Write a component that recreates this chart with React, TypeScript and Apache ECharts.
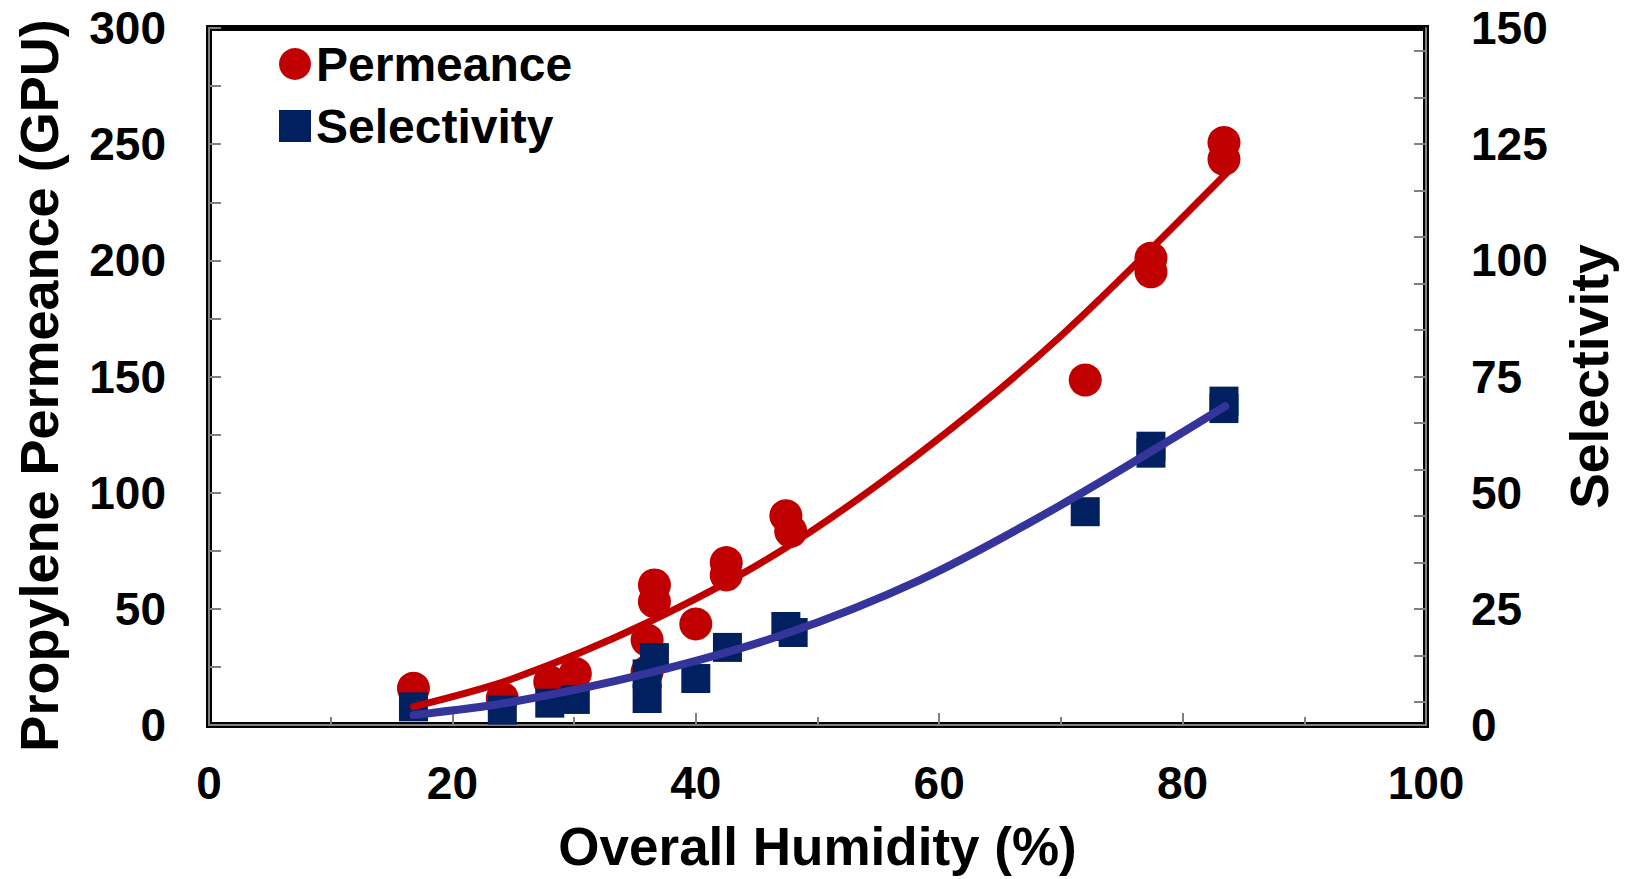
import React, { useEffect, useRef } from "react";
import * as echarts from "echarts";

const humidityPerm = [16.8, 24.1, 28.0, 30.1, 36.0, 36.0, 36.6, 36.6, 40.0, 42.5, 42.5, 47.4, 47.8, 72.0, 77.4, 77.4, 83.4, 83.4];
const permeance = [15.8, 11.5, 18.6, 22.2, 36.6, 22.9, 60.3, 53.1, 43.5, 69.9, 64.6, 90.1, 83.4, 148.5, 200.9, 195.1, 250.7, 243.5];

const humiditySel = [16.8, 24.1, 28.0, 30.1, 36.0, 36.0, 36.6, 40.0, 42.6, 47.4, 48.0, 72.0, 77.4, 77.4, 83.4, 83.4];
const selectivity = [3.9, 3.2, 4.7, 5.5, 11.0, 5.7, 14.5, 10.0, 16.7, 21.2, 19.9, 45.9, 60.0, 58.5, 69.7, 68.1];

const permFitX = [16.8, 25, 36, 47, 58.4, 69.9, 83.6];
const permFitY = [7.9, 20, 44, 75, 117, 167, 237.5];
const selFitX = [16.8, 25, 36, 46.9, 58.4, 69.9, 83.5];
const selFitY = [2.15, 5.0, 11.1, 19.2, 31.2, 47.2, 68.6];

const FONT = "'Liberation Sans', Arial, sans-serif";

const zip = (xs: number[], ys: number[]) => xs.map((x, i) => [x, ys[i]]);

export default function App() {
  const ref = useRef<HTMLDivElement>(null);
  useEffect(() => {
    if (!ref.current) return;
    const chart = echarts.init(ref.current, null, { renderer: "svg" });
    const labelStyle = { color: "#000", fontSize: 46, fontWeight: "bold" as const, fontFamily: FONT };
    const nameStyle = { color: "#000", fontSize: 53, fontWeight: "bold" as const, fontFamily: FONT };
    const axisLine = { show: true, lineStyle: { color: "#808080", width: 2 } };
    const tick = { show: true, inside: true, length: 12, lineStyle: { color: "#808080", width: 2 } };
    chart.setOption({
      animation: false,
      backgroundColor: "#fff",
      grid: {
        left: 209, right: 201, top: 28, bottom: 154,
        show: true, borderColor: "#000", borderWidth: 6, backgroundColor: "transparent",
      },
      legend: {
        orient: "vertical",
        left: 274,
        top: 35,
        itemWidth: 32,
        itemHeight: 32,
        itemGap: 14,
        textStyle: { color: "#000", fontSize: 48, fontWeight: "bold", fontFamily: FONT },
        data: ["Permeance", "Selectivity"],
      },
      xAxis: {
        type: "value",
        min: 0, max: 100, interval: 20,
        name: "Overall Humidity (%)",
        nameLocation: "middle",
        nameGap: 95,
        nameTextStyle: { ...nameStyle, fontSize: 53 },
        axisLine,
        axisTick: tick,
        minorTick: { show: true, splitNumber: 2, length: 8, lineStyle: { color: "#808080", width: 2 } },
        axisLabel: { ...labelStyle, margin: 35 },
        splitLine: { show: false },
      },
      yAxis: [
        {
          type: "value",
          position: "left",
          min: 0, max: 300, interval: 50,
          name: "Propylene Permeance (GPU)",
          nameLocation: "middle",
          nameGap: 143,
          nameRotate: 90,
          nameTextStyle: { ...nameStyle, fontSize: 54, padding: [0, 18, 0, 0] },
          axisLine,
          axisTick: tick,
          minorTick: { show: true, splitNumber: 2, length: 12, lineStyle: { color: "#808080", width: 2 } },
          axisLabel: { ...labelStyle, margin: 43 },
          splitLine: { show: false },
        },
        {
          type: "value",
          position: "right",
          min: 0, max: 150, interval: 25,
          name: "Selectivity",
          nameLocation: "middle",
          nameGap: 136,
          nameRotate: 90,
          nameTextStyle: { ...nameStyle, fontSize: 53.5 },
          axisLine,
          axisTick: { show: false },
          axisLabel: { ...labelStyle, margin: 45 },
          splitLine: { show: false },
        },
        {
          type: "value",
          position: "right",
          min: 0, max: 150, interval: 10,
          axisLine: { show: false },
          axisTick: { show: false, inside: true },
          minorTick: { show: true, splitNumber: 2, length: 12, lineStyle: { color: "#808080", width: 2 } },
          axisLabel: { show: false },
          splitLine: { show: false },
        },
      ],
      series: [
        {
          name: "Permeance",
          type: "scatter",
          yAxisIndex: 0,
          symbol: "circle",
          symbolSize: 33,
          itemStyle: { color: "#C00000", opacity: 1 },
          data: zip(humidityPerm, permeance),
        },
        {
          name: "Selectivity",
          type: "scatter",
          yAxisIndex: 1,
          symbol: "rect",
          symbolSize: 29,
          itemStyle: { color: "#002060", opacity: 1 },
          data: zip(humiditySel, selectivity),
        },
        {
          name: "Permeance fit",
          type: "line",
          yAxisIndex: 0,
          smooth: 0.3,
          showSymbol: false,
          symbol: "none",
          lineStyle: { color: "#C00000", width: 7, cap: "round" },
          data: zip(permFitX, permFitY),
        },
        {
          name: "Selectivity fit",
          type: "line",
          yAxisIndex: 1,
          smooth: 0.3,
          showSymbol: false,
          symbol: "none",
          lineStyle: { color: "#35349A", width: 8, cap: "round" },
          data: zip(selFitX, selFitY),
        },
      ],
    });
    return () => chart.dispose();
  }, []);
  return (
    <div
      ref={ref}
      style={{ position: "fixed", left: 0, top: 0, width: "1627px", height: "879px", background: "#fff" }}
    />
  );
}
